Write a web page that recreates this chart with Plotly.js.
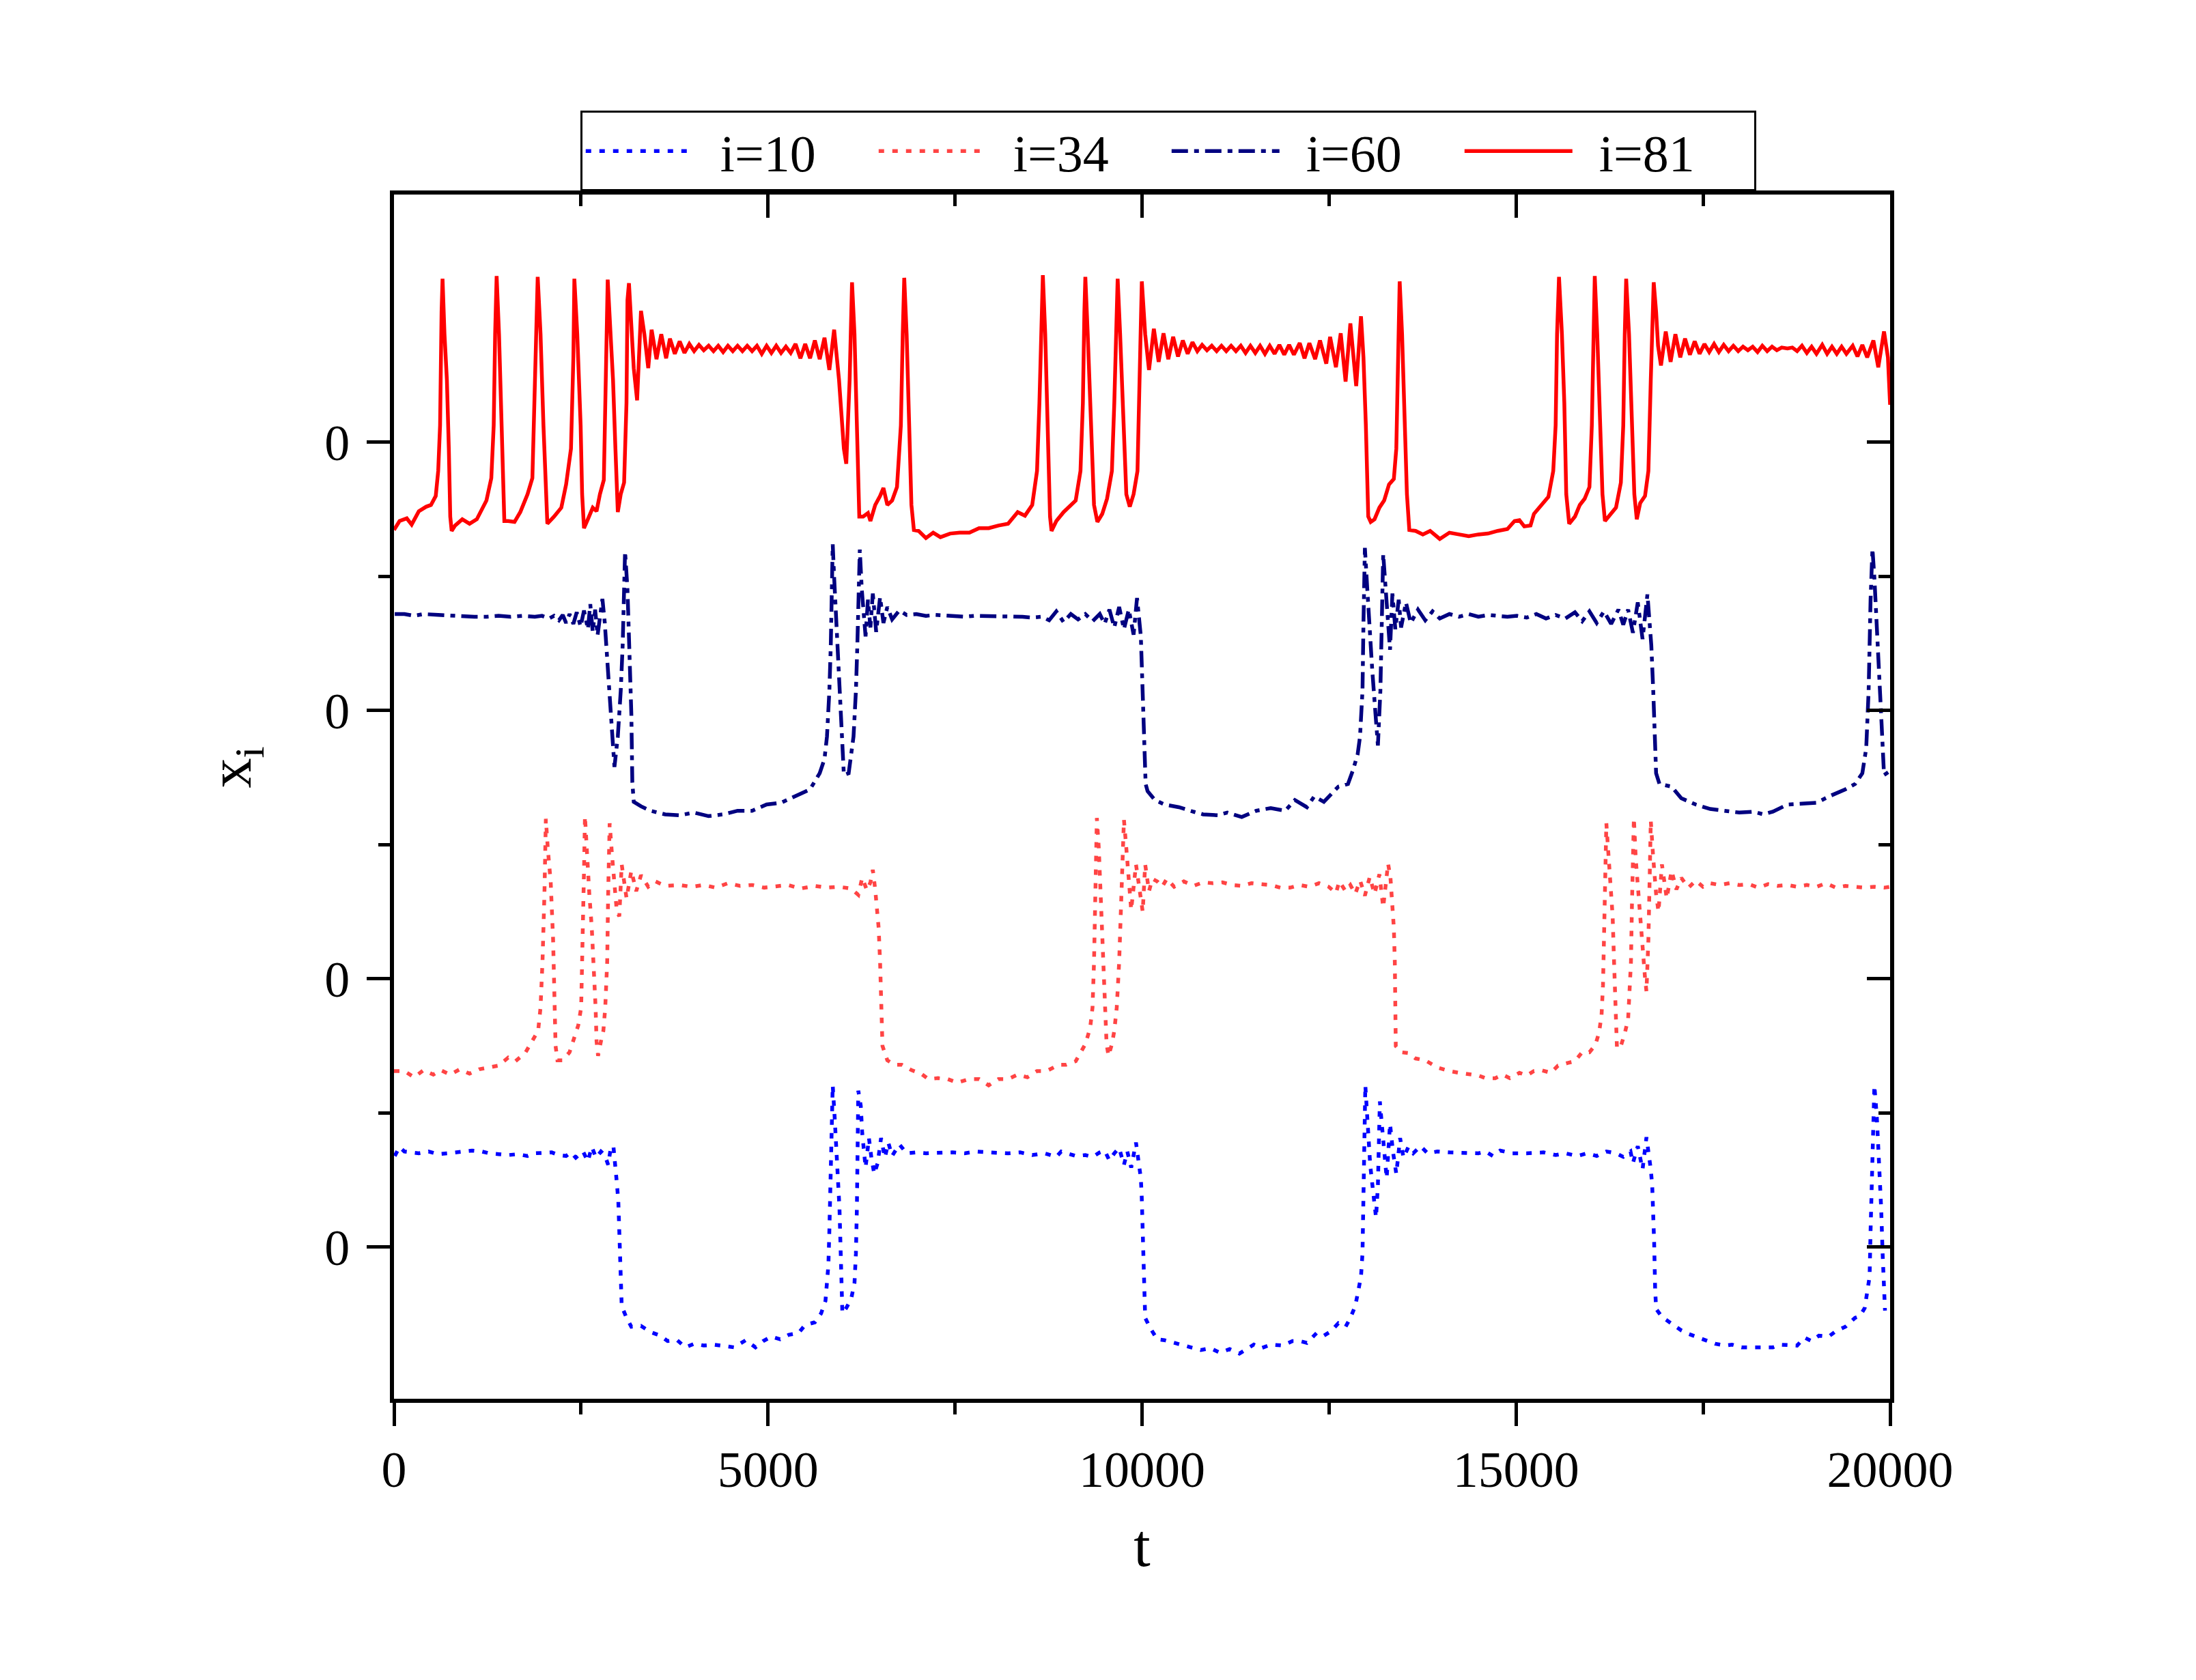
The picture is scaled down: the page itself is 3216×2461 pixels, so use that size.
<!DOCTYPE html>
<html><head><meta charset="utf-8">
<script src="https://cdn.plot.ly/plotly-3.0.1.min.js"></script>
<style>html,body{margin:0;padding:0;background:#fff;}</style>
</head><body>
<div id="chart" style="width:3216px;height:2461px;"></div>
<script>
// ---- data: [t, x_i] (x_i without the vertical stacking offset) ----
const seriesNames = ['i=10', 'i=34', 'i=60', 'i=81'];
const stackOffsets = [0, 3, 6, 9];   // each series is drawn shifted by this amount
const yTickVals = [0, 3, 6, 9];
const yTickText = ['0', '0', '0', '0'];
const yMinorVals = [1.5, 4.5, 7.5];
const xTickVals = [0, 5000, 10000, 15000, 20000];
const xMinorVals = [2500, 7500, 12500, 17500];

const s10 = [[10,1.02],[74,1.12],[139,1.07],[268,1.06],[332,1.05],[462,1.07],[591,1.04],[720,1.05],[881,1.07],[1043,1.08],[1172,1.07],[1269,1.05],[1398,1.04],[1527,1.03],[1656,1.04],[1785,1.02],[1882,1.05],[2011,1.05],[2108,1.06],[2205,1.03],[2301,1.02],[2366,1.06],[2430,1.00],[2527,1.07],[2592,0.96],[2644,1.12],[2702,1.00],[2766,1.07],[2818,1.03],[2863,0.92],[2902,1.13],[2934,1.12],[2960,0.92],[2979,0.72],[2999,0.51],[3018,-0.07],[3031,-0.33],[3044,-0.66],[3109,-0.79],[3173,-0.89],[3302,-0.88],[3431,-0.95],[3560,-0.99],[3657,-1.05],[3786,-1.04],[3896,-1.12],[4012,-1.08],[4141,-1.10],[4271,-1.09],[4400,-1.10],[4548,-1.12],[4703,-1.04],[4832,-1.12],[4935,-1.05],[5045,-1.00],[5161,-1.03],[5278,-0.98],[5407,-0.96],[5497,-0.87],[5626,-0.84],[5710,-0.74],[5768,-0.60],[5788,-0.43],[5807,-0.20],[5820,0.18],[5833,0.82],[5846,1.45],[5865,1.81],[5891,1.45],[5917,1.07],[5936,0.82],[5955,0.44],[5968,0.05],[5981,-0.46],[5994,-0.74],[6046,-0.68],[6111,-0.58],[6156,-0.40],[6175,-0.07],[6188,0.44],[6194,1.07],[6207,1.75],[6240,1.58],[6259,1.28],[6304,0.89],[6349,1.22],[6382,1.00],[6420,0.82],[6466,0.94],[6511,1.22],[6562,1.00],[6608,1.17],[6659,1.02],[6756,1.15],[6853,1.05],[6982,1.06],[7111,1.05],[7305,1.06],[7466,1.06],[7628,1.05],[7789,1.07],[7950,1.06],[8080,1.05],[8209,1.05],[8370,1.06],[8532,1.03],[8693,1.05],[8854,1.01],[8919,1.07],[9016,1.05],[9113,1.02],[9242,1.03],[9339,1.01],[9435,1.06],[9500,1.08],[9564,0.97],[9629,1.05],[9694,1.11],[9758,0.92],[9803,1.07],[9855,0.89],[9919,1.17],[9952,1.00],[9984,0.77],[9996,0.56],[10009,0.18],[10029,-0.58],[10042,-0.79],[10106,-0.90],[10203,-1.03],[10300,-1.04],[10429,-1.07],[10558,-1.10],[10655,-1.12],[10784,-1.15],[10913,-1.13],[11042,-1.18],[11171,-1.14],[11301,-1.19],[11397,-1.14],[11494,-1.09],[11591,-1.13],[11720,-1.09],[11882,-1.10],[12011,-1.05],[12108,-1.05],[12204,-1.07],[12334,-0.96],[12430,-0.99],[12527,-0.94],[12624,-0.85],[12721,-0.89],[12785,-0.79],[12850,-0.66],[12895,-0.48],[12927,-0.33],[12947,-0.07],[12960,0.69],[12973,1.45],[12985,1.81],[13011,1.45],[13031,1.07],[13050,0.92],[13076,0.72],[13102,0.51],[13128,0.33],[13153,0.69],[13166,1.20],[13179,1.63],[13205,1.38],[13237,1.07],[13270,0.77],[13315,1.38],[13354,1.07],[13399,0.82],[13450,1.22],[13495,1.00],[13560,1.12],[13625,1.05],[13722,1.13],[13818,1.05],[13947,1.07],[14109,1.06],[14238,1.06],[14367,1.05],[14496,1.05],[14593,1.07],[14690,1.02],[14787,1.08],[14948,1.05],[15142,1.05],[15368,1.06],[15529,1.03],[15658,1.05],[15820,1.02],[15949,1.05],[16078,1.02],[16207,1.07],[16336,1.05],[16433,1.01],[16530,1.07],[16562,0.94],[16627,1.13],[16691,0.87],[16743,1.23],[16775,1.05],[16801,0.87],[16820,0.69],[16833,0.43],[16846,0.05],[16859,-0.46],[16872,-0.69],[16950,-0.78],[17079,-0.85],[17208,-0.93],[17305,-0.97],[17402,-1.00],[17531,-1.05],[17660,-1.08],[17789,-1.10],[17886,-1.09],[18015,-1.12],[18144,-1.12],[18305,-1.13],[18434,-1.12],[18531,-1.09],[18628,-1.09],[18757,-1.10],[18854,-1.01],[18951,-1.05],[19048,-0.99],[19177,-1.00],[19274,-0.94],[19403,-0.89],[19532,-0.79],[19597,-0.77],[19661,-0.68],[19694,-0.52],[19726,-0.33],[19739,0.18],[19758,0.94],[19777,1.45],[19790,1.81],[19823,1.45],[19855,0.94],[19881,0.43],[19900,-0.07],[19919,-0.58],[19932,-0.71]];

const s34 = [[0,-1.03],[139,-1.03],[268,-1.10],[397,-1.02],[526,-1.07],[623,-1.02],[752,-1.07],[881,-1.01],[1010,-1.06],[1139,-1.01],[1269,-0.99],[1398,-0.97],[1527,-0.88],[1624,-0.92],[1753,-0.83],[1817,-0.73],[1882,-0.65],[1927,-0.58],[1959,-0.32],[1985,0.19],[2011,0.95],[2030,1.79],[2056,1.46],[2095,1.08],[2127,0.44],[2147,-0.19],[2160,-0.75],[2185,-0.91],[2256,-0.91],[2347,-0.82],[2398,-0.68],[2463,-0.52],[2502,-0.32],[2527,0.44],[2540,1.21],[2553,1.82],[2579,1.33],[2611,0.95],[2644,0.57],[2669,0.19],[2695,-0.32],[2708,-0.70],[2728,-0.86],[2766,-0.70],[2799,-0.58],[2824,-0.32],[2850,0.19],[2863,0.95],[2883,1.74],[2915,1.38],[2947,1.00],[2979,0.75],[3012,0.70],[3044,1.28],[3109,0.90],[3173,1.21],[3238,0.98],[3302,1.16],[3399,1.03],[3496,1.09],[3625,1.04],[3819,1.05],[3980,1.03],[4141,1.05],[4303,1.02],[4464,1.07],[4626,1.04],[4787,1.05],[4948,1.02],[5110,1.03],[5271,1.05],[5433,1.01],[5626,1.04],[5788,1.02],[5949,1.03],[6111,1.01],[6207,0.94],[6259,1.13],[6323,0.99],[6369,1.08],[6401,1.22],[6433,1.00],[6453,0.82],[6479,0.57],[6498,0.19],[6511,-0.32],[6530,-0.75],[6595,-0.91],[6691,-0.96],[6788,-0.96],[6917,-1.02],[7047,-1.06],[7143,-1.12],[7273,-1.11],[7402,-1.12],[7531,-1.16],[7692,-1.12],[7821,-1.12],[7950,-1.19],[8080,-1.12],[8209,-1.12],[8338,-1.07],[8467,-1.10],[8596,-1.03],[8725,-1.03],[8887,-0.96],[8984,-0.96],[9113,-0.92],[9177,-0.82],[9242,-0.73],[9306,-0.55],[9338,-0.32],[9358,0.19],[9377,0.95],[9396,1.80],[9422,1.46],[9448,0.95],[9474,0.44],[9500,-0.19],[9526,-0.73],[9552,-0.86],[9597,-0.73],[9629,-0.58],[9662,-0.32],[9694,0.19],[9726,0.95],[9758,1.78],[9790,1.46],[9823,1.08],[9855,0.77],[9919,1.28],[9984,0.90],[10009,0.75],[10042,1.28],[10093,0.98],[10138,1.12],[10203,1.09],[10268,1.03],[10332,1.12],[10429,1.03],[10558,1.09],[10687,1.04],[10816,1.08],[10945,1.07],[11075,1.08],[11204,1.05],[11333,1.04],[11462,1.07],[11591,1.06],[11720,1.05],[11849,1.02],[11978,1.02],[12108,1.05],[12237,1.03],[12366,1.07],[12495,1.03],[12592,0.96],[12637,1.09],[12721,0.98],[12785,1.05],[12850,0.95],[12915,1.10],[12979,0.93],[13044,1.14],[13108,0.95],[13173,1.17],[13224,0.80],[13289,1.29],[13321,1.13],[13347,0.80],[13366,0.57],[13379,0.19],[13386,-0.32],[13392,-0.75],[13463,-0.82],[13560,-0.83],[13657,-0.89],[13786,-0.91],[13947,-0.99],[14109,-1.03],[14238,-1.05],[14367,-1.07],[14496,-1.08],[14593,-1.11],[14722,-1.11],[14819,-1.07],[14916,-1.11],[15045,-1.05],[15142,-1.08],[15239,-1.03],[15335,-1.02],[15464,-1.05],[15561,-0.97],[15690,-0.94],[15787,-0.92],[15884,-0.82],[15981,-0.82],[16059,-0.74],[16110,-0.60],[16143,-0.40],[16162,-0.07],[16175,0.44],[16188,1.21],[16207,1.74],[16240,1.33],[16271,0.95],[16291,0.70],[16310,0.19],[16330,-0.32],[16349,-0.78],[16401,-0.75],[16453,-0.61],[16498,-0.45],[16517,-0.19],[16536,0.19],[16549,0.82],[16562,1.46],[16575,1.80],[16601,1.33],[16627,1.03],[16659,0.62],[16691,0.34],[16724,0.01],[16743,-0.14],[16769,0.44],[16788,1.21],[16801,1.77],[16833,1.36],[16872,0.95],[16904,0.75],[16950,1.28],[17014,0.90],[17079,1.21],[17143,1.00],[17208,1.13],[17305,1.02],[17402,1.10],[17498,1.03],[17595,1.07],[17725,1.05],[17854,1.07],[17983,1.05],[18112,1.06],[18241,1.02],[18370,1.06],[18499,1.04],[18628,1.05],[18757,1.03],[18887,1.05],[19016,1.03],[19145,1.07],[19274,1.02],[19403,1.04],[19532,1.03],[19661,1.02],[19790,1.03],[19919,1.02],[20000,1.03]];

const s60 = [[10,1.08],[139,1.08],[268,1.06],[397,1.08],[591,1.07],[752,1.06],[913,1.06],[1075,1.05],[1236,1.05],[1398,1.06],[1559,1.05],[1720,1.06],[1882,1.05],[1979,1.06],[2075,1.03],[2140,1.06],[2205,1.01],[2256,1.07],[2301,0.98],[2347,1.08],[2398,0.97],[2443,1.10],[2495,0.94],[2540,1.12],[2592,0.91],[2624,1.19],[2657,0.88],[2689,1.13],[2721,0.84],[2786,1.25],[2818,0.98],[2850,0.60],[2883,0.22],[2915,-0.29],[2947,-0.63],[2992,-0.29],[3031,0.22],[3057,0.73],[3076,1.49],[3089,1.78],[3121,1.36],[3147,0.73],[3173,-0.04],[3186,-0.80],[3205,-1.02],[3302,-1.07],[3431,-1.12],[3625,-1.16],[3819,-1.17],[4012,-1.14],[4206,-1.18],[4400,-1.16],[4593,-1.12],[4787,-1.12],[4981,-1.05],[5174,-1.03],[5368,-0.95],[5562,-0.88],[5691,-0.70],[5755,-0.54],[5788,-0.29],[5820,0.22],[5839,0.73],[5852,1.24],[5865,1.86],[5884,1.49],[5917,0.98],[5949,0.47],[5981,-0.16],[6014,-0.72],[6078,-0.70],[6143,-0.29],[6175,0.22],[6194,0.73],[6207,1.24],[6227,1.80],[6253,1.36],[6272,1.11],[6304,0.83],[6336,1.24],[6369,0.93],[6401,1.31],[6446,0.88],[6498,1.27],[6543,0.98],[6595,1.16],[6659,1.02],[6756,1.12],[6853,1.07],[6982,1.08],[7111,1.06],[7240,1.07],[7369,1.06],[7498,1.06],[7628,1.05],[7757,1.06],[7886,1.06],[8015,1.05],[8144,1.06],[8273,1.05],[8403,1.05],[8532,1.04],[8661,1.05],[8758,1.01],[8854,1.11],[8951,0.99],[9048,1.08],[9145,1.02],[9242,1.08],[9339,1.00],[9435,1.08],[9500,0.97],[9564,1.13],[9629,0.93],[9694,1.16],[9758,0.91],[9823,1.13],[9887,0.85],[9933,1.26],[9984,0.83],[9996,0.47],[10029,-0.29],[10048,-0.82],[10074,-0.90],[10171,-1.00],[10300,-1.05],[10493,-1.08],[10687,-1.13],[10816,-1.16],[11010,-1.17],[11139,-1.14],[11333,-1.19],[11526,-1.12],[11720,-1.09],[11914,-1.12],[12043,-1.00],[12204,-1.08],[12301,-0.96],[12430,-1.02],[12624,-0.85],[12753,-0.82],[12818,-0.67],[12882,-0.49],[12914,-0.29],[12947,0.22],[12960,0.98],[12979,1.82],[13011,1.36],[13044,0.85],[13076,0.47],[13121,-0.04],[13153,-0.39],[13186,0.22],[13205,0.98],[13224,1.75],[13257,1.36],[13283,0.98],[13315,0.68],[13347,1.31],[13386,0.91],[13431,1.24],[13463,0.93],[13528,1.21],[13592,0.98],[13689,1.13],[13786,1.01],[13883,1.11],[13980,1.03],[14109,1.08],[14238,1.05],[14367,1.08],[14496,1.05],[14625,1.07],[14754,1.06],[14884,1.05],[15013,1.06],[15142,1.04],[15271,1.08],[15400,1.03],[15529,1.07],[15658,1.03],[15787,1.10],[15884,1.00],[15981,1.11],[16078,0.98],[16175,1.11],[16271,0.97],[16368,1.13],[16433,0.96],[16498,1.13],[16562,0.87],[16627,1.21],[16691,0.80],[16756,1.30],[16788,0.98],[16808,0.73],[16834,0.22],[16853,-0.29],[16872,-0.70],[16917,-0.82],[17079,-0.85],[17208,-0.98],[17402,-1.05],[17595,-1.10],[17789,-1.12],[17983,-1.14],[18176,-1.13],[18305,-1.16],[18434,-1.13],[18628,-1.05],[18822,-1.04],[19016,-1.03],[19209,-0.95],[19403,-0.88],[19532,-0.82],[19629,-0.70],[19681,-0.42],[19713,0.22],[19739,1.24],[19764,1.81],[19790,1.49],[19823,0.98],[19855,0.47],[19887,-0.16],[19919,-0.72],[19990,-0.68]];

const s81 = [[0,-0.98],[74,-0.88],[171,-0.85],[236,-0.92],[332,-0.77],[429,-0.72],[494,-0.70],[558,-0.60],[591,-0.32],[616,0.19],[636,1.46],[649,1.83],[675,1.21],[707,0.70],[733,-0.07],[752,-0.83],[771,-0.99],[817,-0.93],[913,-0.86],[1010,-0.91],[1107,-0.86],[1172,-0.75],[1236,-0.65],[1301,-0.40],[1333,0.19],[1352,1.21],[1372,1.86],[1404,1.21],[1443,-0.07],[1475,-0.88],[1527,-0.88],[1611,-0.89],[1688,-0.78],[1785,-0.58],[1850,-0.40],[1882,0.44],[1901,1.21],[1921,1.85],[1959,1.21],[1998,0.19],[2030,-0.58],[2050,-0.91],[2140,-0.83],[2237,-0.73],[2301,-0.47],[2366,-0.07],[2398,0.95],[2411,1.83],[2450,1.21],[2495,0.19],[2515,-0.58],[2540,-0.96],[2592,-0.86],[2657,-0.73],[2708,-0.77],[2753,-0.58],[2805,-0.42],[2831,0.70],[2857,1.82],[2895,1.21],[2928,0.70],[2960,-0.07],[2992,-0.78],[3031,-0.58],[3076,-0.45],[3108,0.44],[3121,1.59],[3141,1.78],[3173,1.33],[3205,0.83],[3250,0.47],[3276,0.95],[3302,1.47],[3347,1.21],[3399,0.83],[3444,1.26],[3509,0.93],[3573,1.21],[3638,0.94],[3689,1.16],[3754,0.99],[3819,1.13],[3883,1.00],[3948,1.10],[4012,1.02],[4077,1.09],[4141,1.03],[4206,1.08],[4271,1.02],[4335,1.08],[4400,1.01],[4464,1.08],[4529,1.02],[4593,1.08],[4658,1.02],[4722,1.08],[4787,1.02],[4852,1.08],[4916,0.99],[4981,1.08],[5045,1.00],[5110,1.08],[5174,1.00],[5239,1.07],[5303,1.00],[5368,1.10],[5433,0.94],[5497,1.10],[5562,0.94],[5626,1.14],[5691,0.93],[5755,1.17],[5820,0.81],[5884,1.26],[5949,0.70],[6014,-0.07],[6046,-0.24],[6091,0.70],[6123,1.79],[6156,1.21],[6188,0.19],[6220,-0.83],[6272,-0.83],[6336,-0.79],[6369,-0.88],[6433,-0.70],[6498,-0.60],[6543,-0.51],[6595,-0.70],[6659,-0.65],[6724,-0.50],[6776,0.19],[6801,1.21],[6821,1.84],[6853,1.21],[6885,0.19],[6917,-0.70],[6950,-0.98],[7014,-0.99],[7111,-1.07],[7208,-1.01],[7305,-1.06],[7434,-1.02],[7563,-1.01],[7692,-1.01],[7821,-0.96],[7950,-0.96],[8080,-0.93],[8209,-0.91],[8338,-0.78],[8435,-0.82],[8532,-0.70],[8596,-0.32],[8628,0.44],[8654,1.46],[8674,1.87],[8706,1.21],[8738,0.19],[8770,-0.83],[8790,-0.99],[8854,-0.88],[8951,-0.78],[9048,-0.70],[9113,-0.65],[9177,-0.32],[9209,0.44],[9229,1.46],[9242,1.85],[9274,1.21],[9319,0.19],[9358,-0.70],[9403,-0.89],[9468,-0.80],[9532,-0.63],[9597,-0.32],[9629,0.44],[9655,1.46],[9674,1.83],[9707,1.21],[9745,0.32],[9790,-0.58],[9836,-0.72],[9887,-0.58],[9939,-0.32],[9971,0.70],[9997,1.80],[10042,1.21],[10093,0.81],[10158,1.27],[10222,0.90],[10287,1.22],[10351,0.93],[10416,1.18],[10481,0.96],[10545,1.14],[10610,0.99],[10674,1.12],[10739,1.02],[10803,1.09],[10868,1.03],[10932,1.08],[10997,1.02],[11062,1.08],[11126,1.02],[11191,1.08],[11255,1.02],[11320,1.08],[11384,1.00],[11449,1.08],[11514,1.00],[11578,1.08],[11643,0.99],[11707,1.08],[11772,0.99],[11836,1.09],[11901,0.98],[11966,1.09],[12030,0.98],[12108,1.11],[12172,0.94],[12237,1.11],[12314,0.93],[12379,1.14],[12463,0.88],[12514,1.18],[12592,0.84],[12656,1.22],[12721,0.68],[12785,1.33],[12863,0.63],[12927,1.41],[12960,0.95],[12992,0.19],[13024,-0.83],[13057,-0.89],[13108,-0.86],[13173,-0.73],[13237,-0.65],[13302,-0.47],[13366,-0.41],[13399,-0.07],[13418,0.95],[13444,1.80],[13476,1.21],[13515,0.19],[13541,-0.58],[13573,-0.98],[13657,-0.99],[13754,-1.03],[13851,-0.99],[13980,-1.08],[14109,-1.01],[14238,-1.03],[14367,-1.05],[14496,-1.03],[14625,-1.02],[14754,-0.99],[14884,-0.97],[14980,-0.88],[15045,-0.87],[15110,-0.94],[15193,-0.93],[15239,-0.80],[15335,-0.70],[15432,-0.61],[15497,-0.32],[15529,0.19],[15548,1.21],[15574,1.85],[15613,1.21],[15645,0.44],[15671,-0.58],[15710,-0.91],[15787,-0.83],[15852,-0.70],[15917,-0.63],[15981,-0.50],[16013,0.19],[16033,1.21],[16052,1.86],[16085,1.21],[16123,0.19],[16155,-0.58],[16188,-0.88],[16271,-0.80],[16336,-0.73],[16401,-0.45],[16433,0.19],[16453,1.21],[16472,1.83],[16510,1.21],[16549,0.19],[16581,-0.58],[16614,-0.86],[16659,-0.68],[16724,-0.60],[16769,-0.32],[16801,0.70],[16840,1.79],[16872,1.46],[16898,1.08],[16937,0.86],[17001,1.24],[17066,0.90],[17130,1.21],[17195,0.95],[17259,1.16],[17324,0.98],[17388,1.13],[17453,0.99],[17518,1.10],[17582,1.01],[17647,1.10],[17711,1.01],[17776,1.09],[17841,1.02],[17905,1.08],[17970,1.02],[18034,1.07],[18099,1.03],[18163,1.07],[18228,1.01],[18292,1.08],[18357,1.02],[18422,1.07],[18486,1.03],[18551,1.06],[18628,1.05],[18693,1.06],[18757,1.02],[18822,1.08],[18887,1.00],[18951,1.07],[19016,0.99],[19093,1.09],[19158,0.99],[19223,1.07],[19287,0.99],[19352,1.07],[19416,0.99],[19500,1.08],[19564,0.96],[19629,1.09],[19694,0.95],[19777,1.14],[19842,0.84],[19919,1.24],[19971,0.95],[20000,0.42]];

// ---- styles ----
const seriesData = [s10, s34, s60, s81];
const seriesColors = ['#0000ff', '#ff4444', '#000080', '#ff0000'];
const seriesDash = ['8px,12px', '8px,12px', '24px,9px,7px,9px', 'solid'];
const FONT = 'Liberation Serif, Times New Roman, serif';

const traces = seriesData.map((s, k) => ({
  type: 'scatter', mode: 'lines', name: seriesNames[k],
  x: s.map(p => p[0]),
  y: s.map(p => p[1] + stackOffsets[k]),
  line: {color: seriesColors[k], width: 5.5, dash: seriesDash[k]},
  hoverinfo: 'skip'
}));
// invisible helper trace so the mirrored (top/right) axes exist
traces.push({type: 'scatter', mode: 'markers', x: [0], y: [0], xaxis: 'x2', yaxis: 'y2',
  marker: {opacity: 0}, showlegend: false, hoverinfo: 'skip'});

const xRange = [0, 20000];
const yRange = [-1.695, 11.771];

const layout = {
  width: 3216, height: 2461,
  margin: {l: 577, r: 448, t: 285, b: 412, pad: 0},
  paper_bgcolor: '#ffffff', plot_bgcolor: '#ffffff',
  font: {family: FONT, color: '#000000', size: 74},
  showlegend: true,
  xaxis: {
    range: xRange, tickmode: 'array', tickvals: xTickVals, ticktext: xTickVals.map(String),
    ticks: 'outside', ticklen: 34, tickwidth: 5, tickcolor: '#000',
    minor: {tickmode: 'array', tickvals: xMinorVals, ticks: 'outside', ticklen: 17, tickwidth: 5, tickcolor: '#000', showgrid: false},
    showline: true, linewidth: 6, linecolor: '#000', showgrid: false, zeroline: false,
    tickfont: {family: FONT, size: 74, color: '#000'}, ticklabelstandoff: 0,
    title: {text: 't', font: {family: FONT, size: 88, color: '#000'}, standoff: 42},
    fixedrange: true
  },
  yaxis: {
    range: yRange, tickmode: 'array', tickvals: yTickVals, ticktext: yTickText,
    ticks: 'outside', ticklen: 34, tickwidth: 5, tickcolor: '#000',
    minor: {tickmode: 'array', tickvals: yMinorVals, ticks: 'outside', ticklen: 17, tickwidth: 5, tickcolor: '#000', showgrid: false},
    showline: true, linewidth: 6, linecolor: '#000', showgrid: false, zeroline: false,
    tickfont: {family: FONT, size: 74, color: '#000'}, ticklabelstandoff: 10,
    title: {text: 'x<sub>i</sub>', font: {family: FONT, size: 88, color: '#000'}, standoff: 80},
    fixedrange: true
  },
  xaxis2: {
    overlaying: 'x', side: 'top', anchor: 'y2', range: xRange,
    tickmode: 'array', tickvals: xTickVals, showticklabels: false,
    ticks: 'inside', ticklen: 34, tickwidth: 5, tickcolor: '#000',
    minor: {tickmode: 'array', tickvals: xMinorVals, ticks: 'inside', ticklen: 17, tickwidth: 5, tickcolor: '#000', showgrid: false},
    showline: true, linewidth: 6, linecolor: '#000', showgrid: false, zeroline: false, fixedrange: true
  },
  yaxis2: {
    overlaying: 'y', side: 'right', anchor: 'x2', range: yRange,
    tickmode: 'array', tickvals: yTickVals, showticklabels: false,
    ticks: 'inside', ticklen: 34, tickwidth: 5, tickcolor: '#000',
    minor: {tickmode: 'array', tickvals: yMinorVals, ticks: 'inside', ticklen: 17, tickwidth: 5, tickcolor: '#000', showgrid: false},
    showline: true, linewidth: 6, linecolor: '#000', showgrid: false, zeroline: false, fixedrange: true
  },
  legend: {
    orientation: 'h', x: 0.1245, xanchor: 'left', y: 1.0696, yanchor: 'top',
    bgcolor: '#ffffff', bordercolor: '#000', borderwidth: 3,
    font: {family: FONT, size: 76, color: '#000'},
    itemwidth: 192, entrywidth: 222, entrywidthmode: 'pixels', traceorder: 'normal'
  }
};

Plotly.newPlot('chart', traces, layout, {displayModeBar: false, staticPlot: true}).then(gd => {
  // lengthen the legend line samples to match the reference
  gd.querySelectorAll('.legend path.js-line').forEach(p => p.setAttribute('d', 'M5,0h158'));
  // the reference places the y title a little above the axis centre
  const yt = gd.querySelector('.ytitle');
  if (yt) {
    const tr = yt.getAttribute('transform') || '';
    yt.setAttribute('transform', 'translate(0,-43) ' + tr);
  }
});
</script>
</body></html>
